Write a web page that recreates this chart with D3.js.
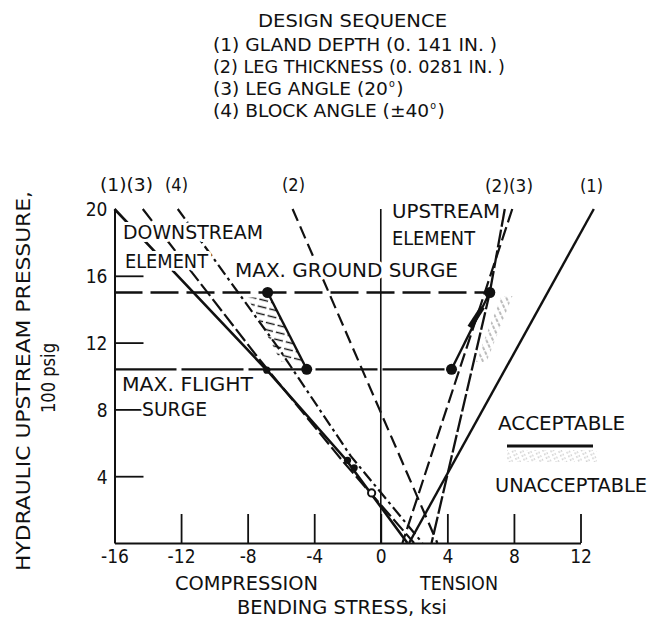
<!DOCTYPE html>
<html><head><meta charset="utf-8">
<script src="https://cdn.jsdelivr.net/npm/d3@7"></script>
<style>
html,body{margin:0;padding:0;background:#fff;}
svg{display:block;}
text{font-family:'DejaVu Sans Condensed','DejaVu Sans',sans-serif;font-stretch:condensed;fill:#111;}
</style></head><body>
<script>
// ---- data ----
const xTicks = [-16,-12,-8,-4,0,4,8,12];
const yTicks = [4,8,12,16,20];
const groundSurge = 15;      // 100 psig
const flightSurge = 10.4;    // 100 psig
// downstream element lines (stress ksi, pressure 100 psig)
const down1 = [[-16,20],[-6.8,10.3],[-2.1,5],[1.6,0]];
const down3 = [[-14.3,20],[-7.3,11],[-2.2,4.8],[2.0,0]];
const down4 = [[-12.2,20],[-6.1,11.6],[-1.8,5.2],[2.5,0]];
const down2 = [[-5.3,20],[3.4,0]];
// upstream element lines
const up1 = [[12.8,20],[1.7,0]];
const up2 = [[7.9,20],[1.3,0]];
const up3 = [[7.45,20],[6.55,15],[3.05,0]];
// design points
const downGround = [-6.8,15], downFlight = [-4.45,10.4];
const upGround = [6.55,15], upFlight = [4.25,10.4];
const extraDots = [[-6.85,10.35],[-2.0,4.95],[-1.6,4.5]];
const openDots = [[-0.55,3.0]];
// unacceptable (hatched) regions
const downHatch = [[-8.0,14.7],[-6.65,14.7],[-4.7,10.85],[-6.0,10.85]];
const upHatch = [[5.7,10.84],[6.35,10.84],[7.91,14.79],[7.25,14.79]];
const upThick = [[5.34,12.93],[6.12,14.13]];
const zeroLine = [[0,20],[0,0]];

// ---- setup ----
const W=652,H=631;
const svg=d3.select('body').append('svg').attr('width',W).attr('height',H);
const x=d3.scaleLinear().domain([-16,12]).range([114.5,580.5]);
const y=d3.scaleLinear().domain([0,20]).range([543,209]);
const line=d3.line().x(d=>x(d[0])).y(d=>y(d[1]));
const INK='#111';

const defs=svg.append('defs');
const p1=defs.append('pattern').attr('id','hatchDown').attr('patternUnits','userSpaceOnUse')
  .attr('width',12).attr('height',7).attr('patternTransform','rotate(14)');
p1.append('line').attr('x1',0).attr('y1',3.5).attr('x2',9).attr('y2',3.5).attr('stroke',INK).attr('stroke-width',1.4);
const p2=defs.append('pattern').attr('id','hatchUp').attr('patternUnits','userSpaceOnUse')
  .attr('width',5).attr('height',6).attr('patternTransform','rotate(65)');
p2.append('line').attr('x1',0).attr('y1',3).attr('x2',5).attr('y2',3).attr('stroke','#777').attr('stroke-width',1.2).attr('stroke-dasharray','2,1.5');
const p3=defs.append('pattern').attr('id','stipple').attr('patternUnits','userSpaceOnUse')
  .attr('width',7).attr('height',4).attr('patternTransform','rotate(-25)');
p3.append('line').attr('x1',0).attr('y1',2).attr('x2',4).attr('y2',2).attr('stroke','#aaa').attr('stroke-width',1.1).attr('stroke-dasharray','1.5,1.2');

// hatch regions
svg.append('path').attr('d',line(downHatch)+'Z').attr('fill','url(#hatchDown)');
svg.append('path').attr('d',line(upHatch)+'Z').attr('fill','url(#hatchUp)');

// axes
const gx=svg.append('g').attr('transform',`translate(0,${y(0)})`)
  .call(d3.axisBottom(x).tickValues(xTicks).tickSize(-29).tickSizeOuter(0).tickPadding(7).tickFormat(d=>String(d)));
const gy=svg.append('g').attr('transform',`translate(${x(-16)},0)`)
  .call(d3.axisLeft(y).tickValues(yTicks).tickSize(-29).tickSizeOuter(0).tickPadding(7).tickFormat(d=>String(d)));
[gx,gy].forEach(g=>{
  g.attr('font-family',null).attr('font-size',null);
  g.select('.domain').attr('stroke',INK).attr('stroke-width',2);
  g.selectAll('.tick line').attr('stroke',INK).attr('stroke-width',1.8);
  g.selectAll('.tick text').style('font-size','19px').attr('fill',INK);
});
gy.selectAll('.tick').filter(d=>d===20).select('line').remove();
gy.selectAll('.tick text').attr('dy','0.36em');

// reference line at zero stress
svg.append('path').attr('d',line(zeroLine)).attr('stroke',INK).attr('stroke-width',1.6).attr('fill','none');

// surge lines
svg.append('path').attr('d',line([[-16,groundSurge],[upGround[0],groundSurge]]))
  .attr('stroke',INK).attr('stroke-width',2.4).attr('fill','none').attr('stroke-dasharray','28,8');
svg.append('path').attr('d',line([[-16,flightSurge],[upFlight[0],flightSurge]]))
  .attr('stroke',INK).attr('stroke-width',2.2).attr('fill','none').attr('stroke-dasharray','62,5');

// design lines
const series=[
  {d:down1,dash:null,w:2.6},{d:down3,dash:'15,4',w:2.2},{d:down4,dash:'12,4,3,4',w:2.2},{d:down2,dash:'13,6',w:2.2},
  {d:up1,dash:null,w:2.4},{d:up2,dash:'14,5',w:2.2},{d:up3,dash:'18,3',w:2.3},
  {d:[downGround,downFlight],dash:null,w:2.4},{d:[upFlight,upGround],dash:null,w:2.4}
];
svg.selectAll('.series').data(series).enter().append('path')
  .attr('d',s=>line(s.d)).attr('fill','none').attr('stroke',INK)
  .attr('stroke-width',s=>s.w).attr('stroke-dasharray',s=>s.dash);
svg.append('path').attr('d',line(upThick)).attr('stroke',INK).attr('stroke-width',5).attr('fill','none');

// dots
svg.selectAll('.dot').data([downGround,downFlight,upGround,upFlight]).enter().append('circle')
  .attr('cx',d=>x(d[0])).attr('cy',d=>y(d[1])).attr('r',5.5).attr('fill',INK);
svg.selectAll('.xdot').data(extraDots).enter().append('circle')
  .attr('cx',d=>x(d[0])).attr('cy',d=>y(d[1])).attr('r',3.6).attr('fill',INK);
svg.selectAll('.odot').data(openDots).enter().append('circle')
  .attr('cx',d=>x(d[0])).attr('cy',d=>y(d[1])).attr('r',3.6).attr('fill','#fff').attr('stroke',INK).attr('stroke-width',2);

// text helper: x start, width, center y
function label(t,x0,w,cy,opt={}){
  const fs=opt.fs||19;
  const el=svg.append('text').attr('x',x0).attr('y',cy+0.36*fs).style('font-size',fs+'px').text(t);
  if(opt.halo) el.attr('stroke','#fff').attr('stroke-width',6).attr('stroke-linejoin','round').attr('paint-order','stroke');
  if(w) el.attr('textLength',w).attr('lengthAdjust','spacingAndGlyphs');
  return el;
}
// heading
label('DESIGN SEQUENCE',258,189,21,{fs:18});
const l1=label('(1) GLAND DEPTH (0. 141 IN. )',213,null,45,{fs:17.5});
const stretch=284/l1.node().getComputedTextLength();
l1.attr('textLength',284).attr('lengthAdjust','spacingAndGlyphs');
label('(2) LEG THICKNESS (0. 0281 IN. )',213,292,67,{fs:17.5});
// text with a degree-like superscript "o" followed by ")"
function supLabel(main,x0,cy,fs){
  const m=label(main,x0,null,cy,{fs:fs});
  const w=m.node().getComputedTextLength()*stretch;
  m.attr('textLength',w).attr('lengthAdjust','spacingAndGlyphs');
  const end=x0+w;
  const o=label('o',end+1,null,cy-6,{fs:10.5});
  const end2=end+1+o.node().getComputedTextLength();
  const c=label(')',end2+1.5,null,cy,{fs:fs});
  c.attr('textLength',c.node().getComputedTextLength()*stretch).attr('lengthAdjust','spacingAndGlyphs');
}
supLabel('(3) LEG ANGLE (20',213,89,17.5);
supLabel('(4) BLOCK ANGLE (±40',213,111,17.5);
// series labels at top
label('(1)(3)',100,53,185,{fs:18});
label('(4)',165,23,185,{fs:18});
label('(2)',282,23,185,{fs:18});
label('(2)(3)',485,48,186,{fs:18});
label('(1)',580,23,186,{fs:18});
// in-plot labels
label('DOWNSTREAM',123,140,232,{halo:true});
label('ELEMENT',125,83,261,{halo:true});
label('MAX. GROUND SURGE',235,223,270,{halo:true});
label('UPSTREAM',392,108,211,{halo:true});
label('ELEMENT',392,83,238,{halo:true});
label('MAX. FLIGHT',122,131,384,{halo:true});
label('SURGE',142,65,409,{halo:true});
// legend
label('ACCEPTABLE',498,127,423);
svg.append('line').attr('x1',507).attr('x2',593).attr('y1',446).attr('y2',446).attr('stroke',INK).attr('stroke-width',3);
svg.append('rect').attr('x',507).attr('y',450).attr('width',90).attr('height',12).attr('fill','url(#stipple)');
label('UNACCEPTABLE',495,152,485);
// axis titles
label('COMPRESSION',175,143,583);
label('TENSION',420,78,583);
label('BENDING STRESS, ksi',237,210,607);
svg.append('text').attr('transform','translate(30,381) rotate(-90)').attr('text-anchor','middle')
  .style('font-size','19px').attr('textLength',380).attr('lengthAdjust','spacingAndGlyphs').text('HYDRAULIC UPSTREAM PRESSURE,');
svg.append('text').attr('transform','translate(55,378) rotate(-90)').attr('text-anchor','middle')
  .style('font-size','19px').attr('textLength',70).attr('lengthAdjust','spacingAndGlyphs').text('100 psig');
</script>
</body></html>
